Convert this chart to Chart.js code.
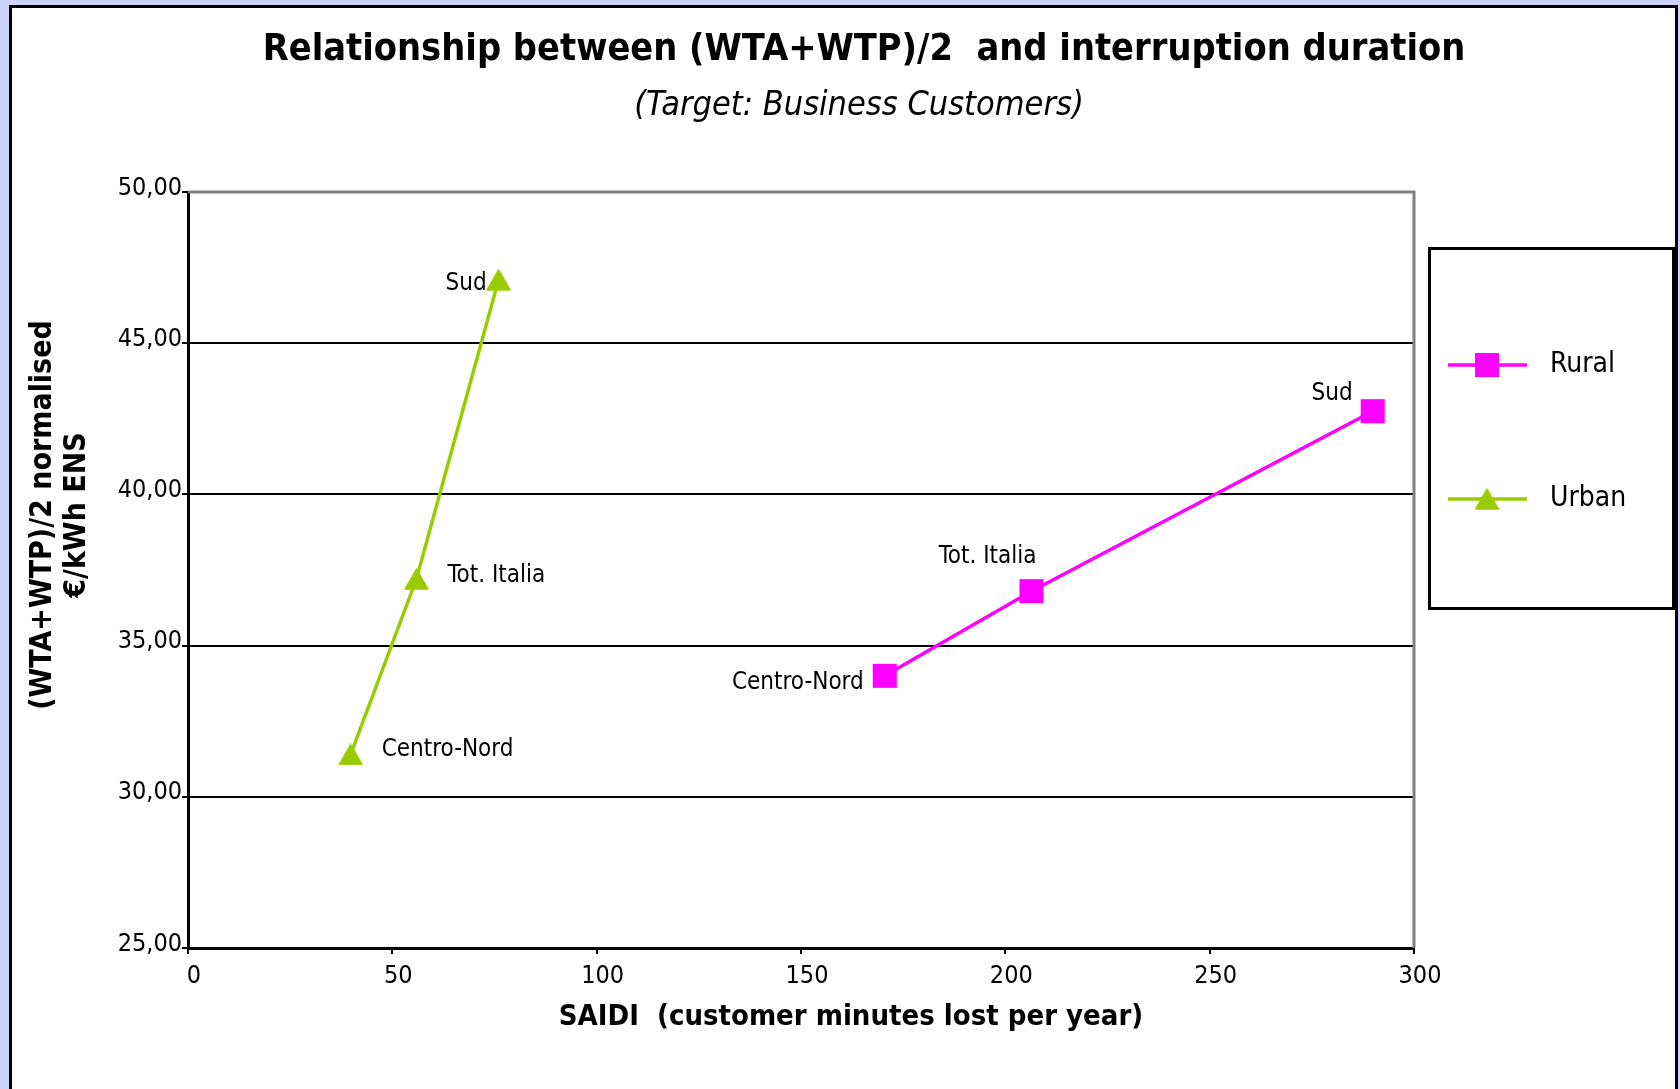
<!DOCTYPE html>
<html>
<head>
<meta charset="utf-8">
<script src="https://cdn.jsdelivr.net/npm/chart.js@4.4.0/dist/chart.umd.min.js"></script>
<style>
  html, body { margin: 0; padding: 0; background: #cbd3fe; }
  canvas { display: block; }
</style>
</head>
<body>
<canvas id="chart" width="1680" height="1089"></canvas>
<script>
// Survey results: average of WTA and WTP versus SAIDI, business customers
const pointNames = ['Centro-Nord', 'Tot. Italia', 'Sud'];
const seriesNames = ['Rural', 'Urban'];
const ruralSaidi = [170.5, 206.4, 289.9];
const ruralValue = [34.0, 36.8, 42.75];
const urbanSaidi = [39.8, 55.9, 76.0];
const urbanValue = [31.4, 37.2, 47.1];
const xTickValues = [0, 50, 100, 150, 200, 250, 300];
const yTickLabels = ['25,00', '30,00', '35,00', '40,00', '45,00', '50,00'];

const titleText = 'Relationship between (WTA+WTP)/2  and interruption duration';
const subtitleText = '(Target: Business Customers)';
const xTitleText = 'SAIDI  (customer minutes lost per year)';
const yTitleLines = ['(WTA+WTP)/2 normalised', '€/kWh ENS'];

const FONT = '"DejaVu Sans Condensed", "DejaVu Sans", sans-serif';
const RURAL_COLOR = '#ff00ff';
const URBAN_COLOR = '#99cc00';

function toPoints(xs, ys) {
  return xs.map((x, i) => ({ x: x, y: ys[i] }));
}

// Triangle marker centred on its bounding box
function triangleMarker(w, h, color) {
  const c = document.createElement('canvas');
  c.width = w; c.height = h;
  const g = c.getContext('2d');
  g.fillStyle = color;
  g.strokeStyle = color;
  g.lineJoin = 'round';
  g.lineWidth = 1.5;
  g.beginPath();
  g.moveTo(w / 2, 1);
  g.lineTo(w - 1, h - 1);
  g.lineTo(1, h - 1);
  g.closePath();
  g.fill();
  g.stroke();
  return c;
}
const urbanTriangle = triangleMarker(25, 22, URBAN_COLOR);

// Where each point name sits relative to its marker
const labelPlacement = {
  Rural: [
    { dx: -21, dy: 13.5, align: 'right' },
    { dx: 5, dy: -28.5, align: 'right' },
    { dx: -20, dy: -11, align: 'right' }
  ],
  Urban: [
    { dx: 31, dy: 1.5, align: 'left' },
    { dx: 31, dy: 2.5, align: 'left' },
    { dx: -12, dy: 10.5, align: 'right' }
  ]
};

const framePlugin = {
  id: 'frame',
  beforeDraw(chart) {
    const ctx = chart.ctx;
    ctx.save();
    ctx.fillStyle = '#cbd3fe';
    ctx.fillRect(0, 0, chart.width, chart.height);
    ctx.fillStyle = '#ffffff';
    ctx.fillRect(10, 6, 1667, 1100);
    ctx.strokeStyle = '#000000';
    ctx.lineWidth = 3;
    ctx.strokeRect(10.5, 6.5, 1666, 1100);
    ctx.restore();
  },
  beforeDatasetsDraw(chart) {
    const a = chart.chartArea;
    const ctx = chart.ctx;
    ctx.save();
    ctx.strokeStyle = '#808080';
    ctx.lineWidth = 3;
    ctx.beginPath();
    ctx.moveTo(a.left, a.top);
    ctx.lineTo(a.right, a.top);
    ctx.lineTo(a.right, a.bottom);
    ctx.stroke();
    ctx.restore();
  }
};

const textPlugin = {
  id: 'texts',
  afterDraw(chart) {
    const ctx = chart.ctx;
    ctx.save();
    ctx.fillStyle = '#000000';
    ctx.textBaseline = 'alphabetic';

    // Title and subtitle
    ctx.textAlign = 'center';
    ctx.font = 'bold 37.6px ' + FONT;
    ctx.fillText(titleText, 864, 60);
    ctx.font = 'italic 34px ' + FONT;
    ctx.fillText(subtitleText, 859, 115);

    // Axis titles
    ctx.font = 'bold 29px ' + FONT;
    ctx.fillText(xTitleText, 851, 1025);
    ctx.save();
    ctx.translate(0, 515);
    ctx.rotate(-Math.PI / 2);
    ctx.font = 'bold 30px ' + FONT;
    ctx.fillText(yTitleLines[0], 0, 51);
    ctx.fillText(yTitleLines[1], 0, 85);
    ctx.restore();

    // Point names
    ctx.font = '24px ' + FONT;
    chart.data.datasets.forEach((ds, di) => {
      const meta = chart.getDatasetMeta(di);
      const place = labelPlacement[ds.label];
      meta.data.forEach((pt, i) => {
        const p = place[i];
        ctx.textAlign = p.align;
        ctx.fillText(pointNames[i], pt.x + p.dx, pt.y + p.dy);
      });
    });

    // Legend
    const box = { left: 1429, top: 248, right: 1673, bottom: 608 };
    ctx.strokeStyle = '#000000';
    ctx.lineWidth = 3;
    ctx.strokeRect(box.left + 0.5, box.top + 0.5, box.right - box.left, box.bottom - box.top);
    const rows = [365, 499];
    ctx.font = '28px ' + FONT;
    ctx.textAlign = 'left';
    chart.data.datasets.forEach((ds, di) => {
      const y = rows[di];
      ctx.strokeStyle = ds.borderColor;
      ctx.lineWidth = 3.5;
      ctx.beginPath();
      ctx.moveTo(1448, y);
      ctx.lineTo(1527, y);
      ctx.stroke();
      if (ds.pointStyle === 'rect') {
        ctx.fillStyle = ds.backgroundColor;
        ctx.fillRect(1475, y - 12, 24, 24);
      } else {
        ctx.drawImage(ds.pointStyle, 1487 - ds.pointStyle.width / 2, y - ds.pointStyle.height / 2);
      }
      ctx.fillStyle = '#000000';
      ctx.fillText(ds.label, 1550, y + 7);
    });
    ctx.restore();
  }
};

new Chart(document.getElementById('chart'), {
  type: 'scatter',
  data: {
    datasets: [
      {
        label: seriesNames[0],
        data: toPoints(ruralSaidi, ruralValue),
        showLine: true,
        borderColor: RURAL_COLOR,
        backgroundColor: RURAL_COLOR,
        borderWidth: 3.5,
        pointStyle: 'rect',
        pointRadius: 17,
        pointBorderWidth: 0,
        pointHoverRadius: 17
      },
      {
        label: seriesNames[1],
        data: toPoints(urbanSaidi, urbanValue),
        showLine: true,
        borderColor: URBAN_COLOR,
        backgroundColor: URBAN_COLOR,
        borderWidth: 3.5,
        pointStyle: urbanTriangle,
        pointRadius: 12,
        pointHoverRadius: 12
      }
    ]
  },
  options: {
    responsive: false,
    animation: false,
    events: [],
    layout: { padding: { top: 192, right: 266, left: 0, bottom: 0 } },
    plugins: {
      legend: { display: false },
      title: { display: false },
      tooltip: { enabled: false }
    },
    scales: {
      x: {
        type: 'linear',
        position: 'bottom',
        min: 0,
        max: 300,
        afterBuildTicks(scale) {
          scale.ticks = xTickValues.map(v => ({ value: v }));
        },
        afterFit(scale) { scale.height = 141; },
        ticks: {
          color: '#000000',
          font: { family: FONT, size: 25 },
          padding: 7,
          labelOffset: 6,
          maxRotation: 0
        },
        grid: {
          drawOnChartArea: false,
          drawTicks: true,
          tickLength: 6,
          tickColor: '#000000',
          lineWidth: 2
        },
        border: { display: true, color: '#000000', width: 3 }
      },
      y: {
        type: 'linear',
        min: 25,
        max: 50,
        afterFit(scale) { scale.width = 188; },
        ticks: {
          stepSize: 5,
          color: '#000000',
          font: { family: FONT, size: 25 },
          padding: 0,
          labelOffset: -4,
          callback: (value, index) => yTickLabels[index]
        },
        grid: {
          color: ctx => (ctx.tick && ctx.tick.value === 50 ? '#808080' : '#000000'),
          lineWidth: 2,
          tickLength: 6,
          tickColor: '#000000'
        },
        border: { display: true, color: '#000000', width: 3 }
      }
    }
  },
  plugins: [framePlugin, textPlugin]
});
</script>
</body>
</html>
